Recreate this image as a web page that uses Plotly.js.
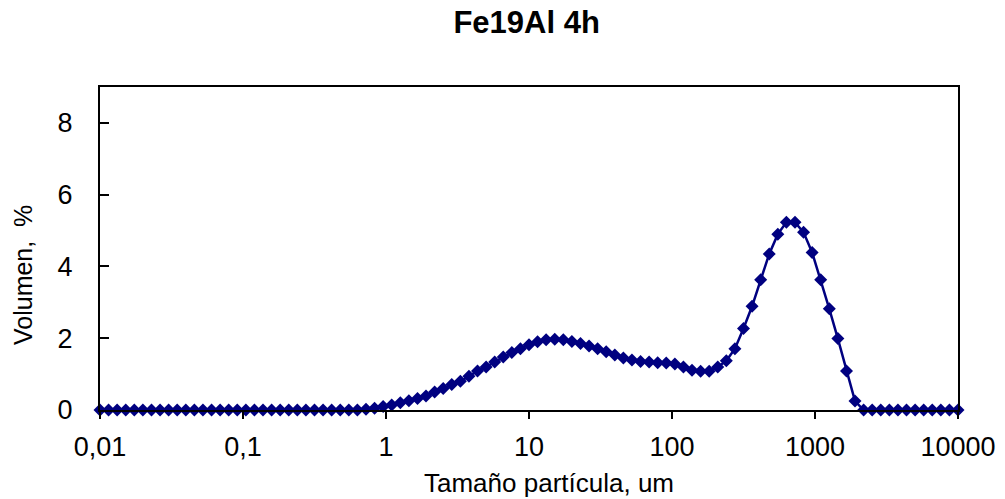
<!DOCTYPE html>
<html>
<head>
<meta charset="utf-8">
<script src="https://cdn.plot.ly/plotly-3.0.1.min.js"></script>
<style>html,body{margin:0;padding:0;background:#fff;}#chart{width:1005px;height:499px;}</style>
</head>
<body>
<div id="chart"></div>
<script>
// Particle size classes (um)
var sizes = [0.01,0.01148,0.01318,0.01514,0.01738,0.01995,0.02291,0.0263,0.0302,0.03467,
0.03981,0.04571,0.05248,0.06026,0.06918,0.07943,0.0912,0.1047,0.1202,0.138,
0.1585,0.182,0.2089,0.2399,0.2754,0.3162,0.3631,0.4169,0.4786,0.5495,
0.631,0.7244,0.8318,0.955,1.096,1.259,1.445,1.66,1.905,2.188,
2.512,2.884,3.311,3.802,4.365,5.012,5.754,6.607,7.586,8.71,
10,11.48,13.18,15.14,17.38,19.95,22.91,26.3,30.2,34.67,
39.81,45.71,52.48,60.26,69.18,79.43,91.2,104.7,120.2,138,
158.5,182,208.9,239.9,275.4,316.2,363.1,416.9,478.6,549.5,
631,724.4,831.8,955,1096,1259,1445,1660,1905,2188,
2512,2884,3311,3802,4365,5012,5754,6607,7586,8710,10000];

// Volume (%)
var volume = [0,0,0,0,0,0,0,0,0,0,
0,0,0,0,0,0,0,0,0,0,
0,0,0,0,0,0,0,0,0,0,
0,0.02,0.05,0.10,0.14,0.20,0.26,0.32,0.39,0.50,
0.60,0.71,0.80,0.94,1.09,1.20,1.34,1.48,1.60,1.71,
1.82,1.90,1.96,1.97,1.96,1.91,1.85,1.78,1.71,1.62,
1.53,1.45,1.39,1.35,1.34,1.32,1.31,1.28,1.20,1.11,
1.08,1.08,1.20,1.37,1.71,2.27,2.89,3.63,4.35,4.90,
5.23,5.23,4.95,4.39,3.63,2.82,1.99,1.09,0.25,0,
0,0,0,0,0,0,0,0,0,0,0];

var xTickVals = [0.01,0.1,1,10,100,1000,10000];
var xTickText = ['0,01','0,1','1','10','100','1000','10000'];
var yTickVals = [0,2,4,6,8];
var chartTitle = 'Fe19Al 4h';
var xTitle = 'Tamaño partícula, um';
var yTitle = 'Volumen,  %';

var trace = {
  x: sizes, y: volume, type: 'scatter', mode: 'lines+markers',
  line: {color: '#000080', width: 2.5},
  marker: {symbol: 'diamond', size: 10, color: '#000080'},
  cliponaxis: false, hoverinfo: 'x+y'
};

var layout = {
  width: 1005, height: 499,
  margin: {l: 100, r: 47, t: 87, b: 89},
  paper_bgcolor: '#ffffff', plot_bgcolor: '#ffffff',
  font: {family: 'Liberation Sans, Arial, sans-serif', color: '#000000'},
  showlegend: false,
  title: {text: '<b>' + chartTitle + '</b>', font: {size: 31, color: '#000'}, x: 0.524, xanchor: 'center', y: 0.955, yanchor: 'middle'},
  xaxis: {
    type: 'log', range: [-2, 4],
    tickvals: xTickVals, ticktext: xTickText,
    ticks: 'outside', ticklen: 7, tickwidth: 2, tickcolor: '#000',
    showline: true, linecolor: '#000', linewidth: 2, mirror: true,
    showgrid: false, zeroline: false,
    tickfont: {size: 27}, ticklabelstandoff: 5
  },
  yaxis: {
    range: [0, 9], tickvals: yTickVals,
    ticks: 'inside', ticklen: 9, tickwidth: 2, tickcolor: '#000',
    showline: true, linecolor: '#000', linewidth: 2, mirror: true,
    showgrid: false, zeroline: false,
    tickfont: {size: 27}, ticklabelstandoff: 20
  },
  annotations: [
    {text: xTitle, xref: 'paper', yref: 'paper', x: 0.5233, y: -0.226,
     xanchor: 'center', yanchor: 'middle', showarrow: false, font: {size: 26}},
    {text: yTitle, xref: 'paper', yref: 'paper', x: -0.0897, y: 0.418,
     xanchor: 'center', yanchor: 'middle', textangle: -90, showarrow: false, font: {size: 25}}
  ]
};

Plotly.newPlot('chart', [trace], layout, {displayModeBar: false, staticPlot: true});
</script>
</body>
</html>
